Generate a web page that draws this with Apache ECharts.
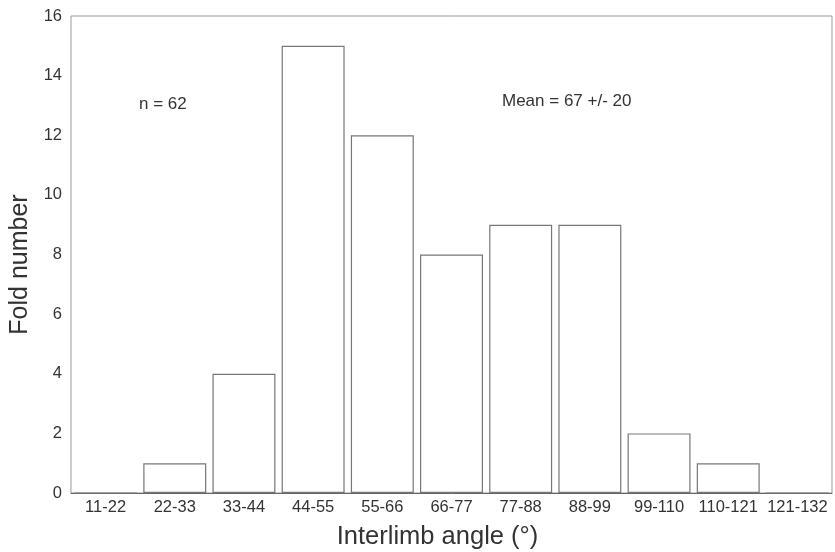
<!DOCTYPE html>
<html>
<head>
<meta charset="utf-8">
<script src="https://cdn.jsdelivr.net/npm/echarts@6/dist/echarts.min.js"></script>
<style>
  html, body { margin: 0; padding: 0; background: #fff; }
  #chart { width: 835px; height: 552px; }
</style>
</head>
<body>
<div id="chart"></div>
<script>
// angle classes and fold counts
const angleClasses = ['11-22', '22-33', '33-44', '44-55', '55-66', '66-77',
  '77-88', '88-99', '99-110', '110-121', '121-132'];
const foldCounts = [0, 1, 4, 15, 12, 8, 9, 9, 2, 1, 0];
const yTicks = [0, 2, 4, 6, 8, 10, 12, 14, 16];
const notes = ['n = 62', 'Mean = 67 +/- 20'];

const font = '"Liberation Sans", Arial, sans-serif';
const chart = echarts.init(document.getElementById('chart'));

chart.setOption({
  backgroundColor: '#fff',
  animation: false,
  grid: {
    left: 71, right: 3, top: 16, bottom: 59,
    outerBoundsMode: 'none',
    containLabel: false,
    show: true, borderColor: '#999', borderWidth: 1
  },
  xAxis: {
    type: 'category',
    data: angleClasses,
    name: 'Interlimb angle (°)',
    nameLocation: 'middle',
    nameGap: 31,
    nameTextStyle: { fontFamily: font, fontSize: 25.5, color: '#333', padding: [0, 28, 0, 0] },
    axisLine: { lineStyle: { color: '#666' } },
    axisTick: { show: false },
    axisLabel: { fontFamily: font, fontSize: 16.5, color: '#333', margin: 6, interval: 0 }
  },
  yAxis: {
    type: 'value',
    min: yTicks[0],
    max: yTicks[yTicks.length - 1],
    interval: 2,
    name: 'Fold number',
    nameLocation: 'middle',
    nameGap: 32,
    nameTextStyle: { fontFamily: font, fontSize: 25, color: '#333', padding: [0, 20, 0, 0] },
    axisLine: { show: false },
    axisTick: { show: false },
    splitLine: { show: false },
    axisLabel: { fontFamily: font, fontSize: 16.5, color: '#333', margin: 9 }
  },
  series: [{
    type: 'bar',
    data: foldCounts,
    barCategoryGap: '9%',
    itemStyle: { color: '#fff', borderColor: '#777', borderWidth: 1.2 }
  }],
  graphic: [
    { type: 'text', left: 139, top: 96,
      style: { text: notes[0], font: '17px ' + font, fill: '#333' } },
    { type: 'text', left: 502, top: 93,
      style: { text: notes[1], font: '17px ' + font, fill: '#333' } }
  ]
});
</script>
</body>
</html>
